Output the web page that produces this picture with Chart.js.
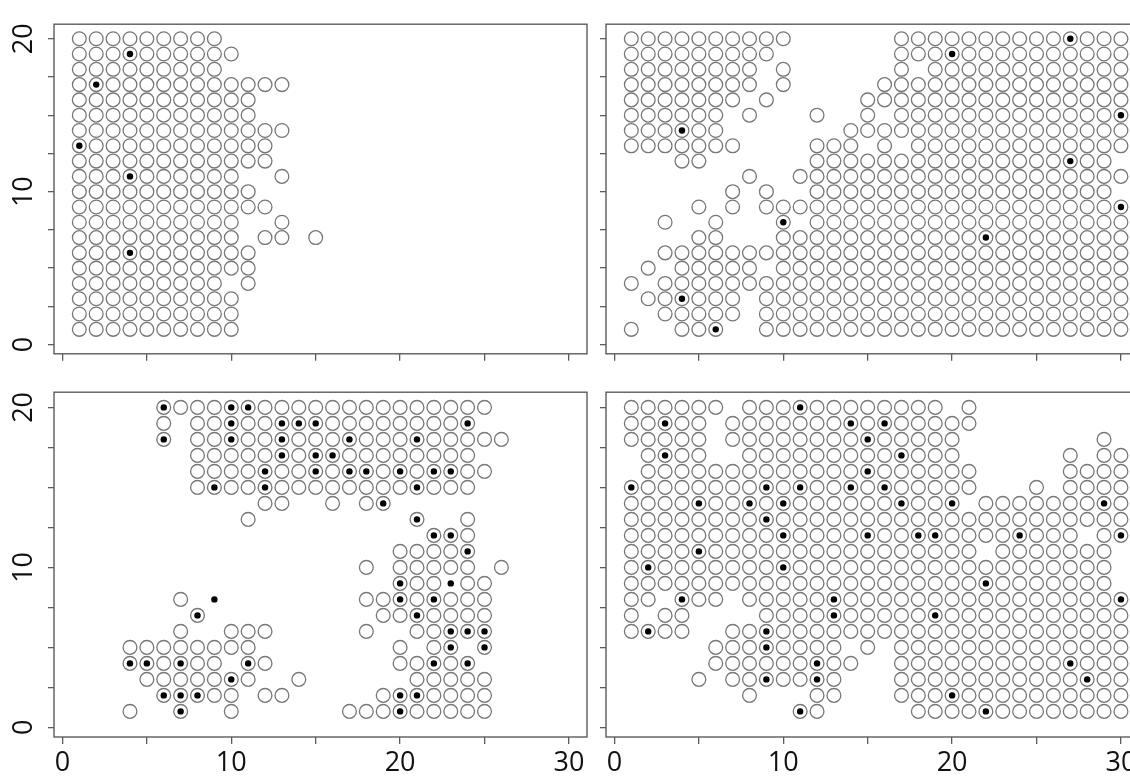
<!DOCTYPE html>
<html>
<head>
<meta charset="utf-8">
<script src="https://cdn.jsdelivr.net/npm/chart.js@4.4.0/dist/chart.umd.min.js"></script>
<style>
  html, body { margin: 0; padding: 0; background: #fff; width: 1130px; height: 780px; overflow: hidden; position: relative; }
  canvas { position: absolute; }
</style>
</head>
<body>
<canvas id="topLeft" width="600" height="378" style="left:0;top:0"></canvas>
<canvas id="topRight" width="600" height="378" style="left:552px;top:0"></canvas>
<canvas id="bottomLeft" width="600" height="412" style="left:0;top:368px"></canvas>
<canvas id="bottomRight" width="600" height="412" style="left:552px;top:368px"></canvas>
<script>
// one string per row, first row is y = 20, last is y = 1
// each character is x = 1..30 (grouped by five)
// o = open circle, * = circle with a dot, d = dot alone, . = empty
const rowsTopLeft = [
  'ooooo oooo. ..... ..... ..... .....',
  'ooo*o ooooo ..... ..... ..... .....',
  'ooooo oooo. ..... ..... ..... .....',
  'o*ooo ooooo ooo.. ..... ..... .....',
  'ooooo ooooo o.... ..... ..... .....',
  'ooooo ooooo o.... ..... ..... .....',
  'ooooo ooooo ooo.. ..... ..... .....',
  '*oooo ooooo oo... ..... ..... .....',
  'ooooo ooooo oo... ..... ..... .....',
  'ooo*o ooooo ..o.. ..... ..... .....',
  'ooooo ooooo o.... ..... ..... .....',
  'ooooo ooooo oo... ..... ..... .....',
  'ooooo ooooo ..o.. ..... ..... .....',
  'ooooo ooooo .oo.o ..... ..... .....',
  'ooo*o ooooo o.... ..... ..... .....',
  'ooooo ooooo o.... ..... ..... .....',
  'ooooo oooo. o.... ..... ..... .....',
  'ooooo ooooo ..... ..... ..... .....',
  'ooooo ooooo ..... ..... ..... .....',
  'ooooo ooooo ..... ..... ..... .....'
];

const rowsTopRight = [
  'ooooo ooooo ..... .oooo ooooo o*ooo',
  'ooooo oooo. ..... .ooo* ooooo ooooo',
  'ooooo ooo.o ..... .o.oo ooooo ooooo',
  'ooooo ooo.o ..... ooooo ooooo ooooo',
  'ooooo oo.o. ....o ooooo ooooo ooooo',
  'ooooo o.o.. .o..o .oooo ooooo oooo*',
  'ooo*o o.... ...oo ooooo ooooo ooooo',
  'ooooo oo... .ooo. o.ooo ooooo ooooo',
  '...oo ..... .oooo ooooo ooooo o*oo.',
  '..... ..o.. ooooo ooooo ooooo ooooo',
  '..... .o.o. .oooo ooooo ooooo oooo.',
  '....o .o.oo ooooo ooooo ooooo oooo*',
  '..o.. o...* .oooo ooooo ooooo ooooo',
  '....o o...o ooooo ooooo o*ooo ooooo',
  '..ooo ooooo ooooo ooooo ooooo ooooo',
  '.o.oo ooo.o ooooo ooooo ooooo ooooo',
  'o.ooo ooooo ooooo ooooo ooooo ooooo',
  '.oo*o oo.oo ooooo ooooo ooooo ooooo',
  '..ooo oo.oo ooooo ooooo ooooo ooooo',
  'o..oo *..oo ooooo ooooo ooooo ooooo'
];

const rowsBottomLeft = [
  '..... *ooo* *oooo ooooo ooooo .....',
  '..... o.oo* oo*** ooooo ooo*. .....',
  '..... *.oo* oo*oo o*ooo *oooo o....',
  '..... ..ooo oo*o* *oooo oooo. .....',
  '..... ..ooo o*oo* o**o* o**oo .....',
  '..... ..o*o o*ooo ooooo *ooo. .....',
  '..... ..... .oo.. o.o*. ..... .....',
  '..... ..... o.... ..... *..o. .....',
  '..... ..... ..... ..... .**o. .....',
  '..... ..... ..... ....o ooo*. .....',
  '..... ..... ..... ..o.o oooo. o....',
  '..... ..... ..... ....* oodoo .....',
  '..... .o.d. ..... ..oo* o*ooo .....',
  '..... ..*.. ..... ...oo *oooo .....',
  '..... .o..o oo... ..o.. oo*** .....',
  '...oo ooooo o.... ....o .o*.* .....',
  '...** o*oo. *o... ....o o*o*. .....',
  '....o oooo* o..o. ..... ooooo .....',
  '..... ***oo .oo.. ...o* *oooo .....',
  '...o. .*..o ..... .ooo* ooooo .....'
];

const rowsBottomRight = [
  'ooooo o.ooo *oooo oooo. o.... .....',
  'oo*oo .oooo ooo*o *oooo o.... .....',
  'ooooo .oooo oooo* ooooo ..... ...o.',
  '.o*oo ..ooo ooooo o*ooo ..... .o.oo',
  '.oooo ooooo oooo* ooooo o.... .oooo',
  '*oooo ooo*o *oo*o *oooo o...o .oooo',
  'oooo* oo*o* ooooo o*oo* .oooo ooo*o',
  'ooooo ooo*o ooooo ooooo ooooo ooooo',
  'ooooo oooo* oooo* oo**o ooo*o oo.o*',
  'oooo* ooooo ooooo ooooo o.ooo oooo.',
  'o*ooo oooo* ooooo ooooo ooooo oooo.',
  'ooooo ooooo ooooo ooooo o*ooo oooo.',
  'oo.*o o.ooo oo*oo ooooo ooooo oooo*',
  'o.oo. ...oo oo*oo ooo*o ooooo ooooo',
  'o*oo. .oo*o ooooo ooooo ooooo ooooo',
  '..... ooo*o ooo.o .oooo ooooo ooooo',
  '..... ooooo o*oo. .oooo ooooo o*ooo',
  '....o .oo*o o*o.. .oooo ooooo oo*oo',
  '..... ..o.. .oo.. .ooo* ooooo ooooo',
  '..... ..... *o... ..ooo o*ooo ooooo'
];

const xTicks = [0, 5, 10, 15, 20, 25, 30];
const yTicks = [0, 2.5, 5, 7.5, 10, 12.5, 15, 17.5, 20];
const xLabels = [0, 10, 20, 30];
const yLabels = [0, 10, 20];

function cells(rows, marks) {
  const pts = [];
  rows.forEach((row, i) => {
    row.replace(/ /g, '').split('').forEach((c, j) => {
      if (marks.includes(c)) pts.push({ x: j + 1, y: 20 - i });
    });
  });
  return pts;
}

const frame = {
  id: 'frame',
  afterDraw(chart) {
    const { ctx, chartArea: a } = chart;
    ctx.save();
    ctx.strokeStyle = '#5c5c5c';
    ctx.lineWidth = 1.4;
    ctx.strokeRect(a.left, a.top, a.right - a.left, a.bottom - a.top);
    ctx.restore();
  }
};

const tickFont = { family: "'Open Sans', sans-serif", size: 27 };

function makePanel(id, rows, showX, showY, xHeight) {
  return new Chart(document.getElementById(id), {
    type: 'scatter',
    data: {
      datasets: [
        {
          data: cells(rows, 'o*'),
          pointRadius: 6.9,
          pointBorderWidth: 1.3,
          pointBorderColor: '#777',
          pointBackgroundColor: 'rgba(0,0,0,0)'
        },
        {
          data: cells(rows, '*d'),
          pointRadius: 3.2,
          pointBorderWidth: 0,
          pointBackgroundColor: '#000'
        }
      ]
    },
    options: {
      responsive: false,
      animation: false,
      events: [],
      layout: { padding: { top: 13, right: 13, left: 0, bottom: 0 } },
      plugins: { legend: { display: false }, tooltip: { enabled: false } },
      scales: {
        x: {
          type: 'linear',
          min: -0.5,
          max: 31.07,
          afterBuildTicks: s => { s.ticks = xTicks.map(v => ({ value: v })); },
          afterFit: s => { s.height = xHeight; },
          border: { display: false },
          grid: { drawOnChartArea: false, drawTicks: true, tickLength: 7, color: '#5c5c5c', lineWidth: 1.3 },
          ticks: {
            autoSkip: false,
            maxRotation: 0,
            padding: 3,
            color: '#111',
            font: tickFont,
            callback: v => (showX && xLabels.includes(v)) ? String(v) : ''
          }
        },
        y: {
          type: 'linear',
          min: -0.6,
          max: 20.95,
          afterBuildTicks: s => { s.ticks = yTicks.map(v => ({ value: v })); },
          afterFit: s => { s.width = 54; },
          border: { display: false },
          grid: { drawOnChartArea: false, drawTicks: true, tickLength: 6, color: '#5c5c5c', lineWidth: 1.3 },
          ticks: {
            autoSkip: false,
            minRotation: 90,
            maxRotation: 90,
            crossAlign: 'center',
            padding: 8,
            color: '#111',
            font: tickFont,
            callback: v => (showY && yLabels.includes(v)) ? String(v) : ''
          }
        }
      }
    },
    plugins: [frame]
  });
}

makePanel('topLeft', rowsTopLeft, false, true, 10);
makePanel('topRight', rowsTopRight, false, false, 10);
makePanel('bottomLeft', rowsBottomLeft, true, true, 43);
makePanel('bottomRight', rowsBottomRight, true, false, 43);
</script>
</body>
</html>
